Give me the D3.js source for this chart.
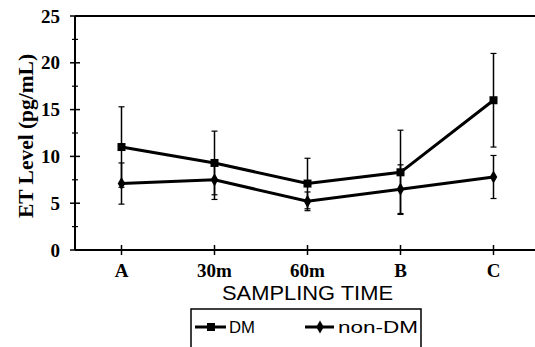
<!DOCTYPE html>
<html><head><meta charset="utf-8">
<script src="https://cdn.jsdelivr.net/npm/d3@7"></script>
<style>body{margin:0;background:#fff}svg{display:block}</style>
</head><body>
<script>
const categories = ["A", "30m", "60m", "B", "C"];
const dmValues = [11.0, 9.3, 7.1, 8.3, 16.0];
const dmErrors = [4.3, 3.4, 2.7, 4.5, 5.0];
const nonDmValues = [7.1, 7.5, 5.2, 6.5, 7.8];
const nonDmErrors = [2.2, 2.1, 1.0, 2.6, 2.3];
const yTicks = [0, 5, 10, 15, 20, 25];
const yMinorTicks = [2.5, 7.5, 12.5, 17.5, 22.5];

const W = 535, H = 347;
const svg = d3.select("body").append("svg").attr("width", W).attr("height", H);
const x = d3.scalePoint().domain(categories).range([75, 540]).padding(0.5);
const y = d3.scaleLinear().domain([0, 25]).range([250, 16]);
const serif = "'Liberation Serif', 'DejaVu Serif', serif";
const sans = "'Liberation Sans', 'DejaVu Sans', sans-serif";

// frame
svg.append("line").attr("x1", 75).attr("x2", 535).attr("y1", y(25)).attr("y2", y(25)).attr("stroke", "#000").attr("stroke-width", 2);
svg.append("line").attr("x1", 75).attr("x2", 535).attr("y1", y(0)).attr("y2", y(0)).attr("stroke", "#000").attr("stroke-width", 2);
svg.append("line").attr("x1", 75).attr("x2", 75).attr("y1", y(0)).attr("y2", y(25)).attr("stroke", "#000").attr("stroke-width", 2);

// y ticks
svg.selectAll(".ymaj").data(yTicks).join("line").attr("x1", 70).attr("x2", 80)
  .attr("y1", d => y(d)).attr("y2", d => y(d)).attr("stroke", "#000").attr("stroke-width", 1.5);
svg.selectAll(".ymin").data(yMinorTicks).join("line").attr("x1", 72).attr("x2", 78)
  .attr("y1", d => y(d)).attr("y2", d => y(d)).attr("stroke", "#000").attr("stroke-width", 1.2);
svg.selectAll(".ylab").data(yTicks).join("text").attr("x", 60).attr("y", d => y(d) + 6.5)
  .attr("text-anchor", "end").attr("font-family", serif).attr("font-weight", "bold").attr("font-size", 19)
  .text(d => d);

// x ticks
svg.selectAll(".xt").data(categories).join("line").attr("x1", d => x(d)).attr("x2", d => x(d))
  .attr("y1", y(0) - 5).attr("y2", y(0) + 5).attr("stroke", "#000").attr("stroke-width", 1.5);
svg.selectAll(".xlab").data(categories).join("text").attr("x", d => x(d)).attr("y", 277)
  .attr("text-anchor", "middle").attr("font-family", serif).attr("font-weight", "bold").attr("font-size", 19)
  .text(d => d);

svg.append("text").attr("x", 222).attr("y", 300)
  .attr("font-family", sans).attr("font-size", 20).attr("textLength", 171).attr("lengthAdjust", "spacingAndGlyphs").text("SAMPLING TIME");
svg.append("text").attr("transform", "translate(33,136) rotate(-90)").attr("text-anchor", "middle")
  .attr("font-family", serif).attr("font-weight", "bold").attr("font-size", 20)
  .attr("textLength", 164).attr("lengthAdjust", "spacingAndGlyphs").text("ET Level (pg/mL)");

// error bars
function errBars(vals, errs) {
  const g = svg.append("g");
  vals.forEach((v, i) => {
    const cx = x(categories[i]);
    g.append("line").attr("x1", cx).attr("x2", cx).attr("y1", y(v + errs[i])).attr("y2", y(v - errs[i]))
      .attr("stroke", "#000").attr("stroke-width", 1.5);
    [v + errs[i], v - errs[i]].forEach(e => g.append("line").attr("x1", cx - 3).attr("x2", cx + 3)
      .attr("y1", y(e)).attr("y2", y(e)).attr("stroke", "#000").attr("stroke-width", 1.2));
  });
}
errBars(dmValues, dmErrors);
errBars(nonDmValues, nonDmErrors);

const line = d3.line().x((d, i) => x(categories[i])).y(d => y(d));
svg.append("path").attr("d", line(dmValues)).attr("fill", "none").attr("stroke", "#000").attr("stroke-width", 3);
svg.append("path").attr("d", line(nonDmValues)).attr("fill", "none").attr("stroke", "#000").attr("stroke-width", 3);

svg.selectAll(".dm").data(dmValues).join("rect").attr("x", (d, i) => x(categories[i]) - 4)
  .attr("y", d => y(d) - 4).attr("width", 8).attr("height", 8).attr("fill", "#000");
const diamond = d3.symbol().type(d3.symbolDiamond).size(50);
svg.selectAll(".ndm").data(nonDmValues).join("path").attr("d", diamond)
  .attr("transform", (d, i) => `translate(${x(categories[i])},${y(d)})`).attr("fill", "#000");

// legend
const lg = svg.append("g");
lg.append("path").attr("d", "M191,347 V309 H421 V347").attr("fill", "none").attr("stroke", "#000").attr("stroke-width", 1.5);
lg.append("line").attr("x1", 195).attr("x2", 226).attr("y1", 327).attr("y2", 327).attr("stroke", "#000").attr("stroke-width", 3);
lg.append("rect").attr("x", 207).attr("y", 323).attr("width", 8).attr("height", 8).attr("fill", "#000");
lg.append("text").attr("x", 229).attr("y", 333).attr("font-family", sans).attr("font-size", 17)
  .attr("textLength", 26).attr("lengthAdjust", "spacingAndGlyphs").text("DM");
lg.append("line").attr("x1", 305).attr("x2", 334).attr("y1", 327).attr("y2", 327).attr("stroke", "#000").attr("stroke-width", 3);
lg.append("path").attr("d", diamond).attr("transform", "translate(320,327)").attr("fill", "#000");
lg.append("text").attr("x", 338).attr("y", 333).attr("font-family", sans).attr("font-size", 17)
  .attr("textLength", 80).attr("lengthAdjust", "spacingAndGlyphs").text("non-DM");
</script>
</body></html>
